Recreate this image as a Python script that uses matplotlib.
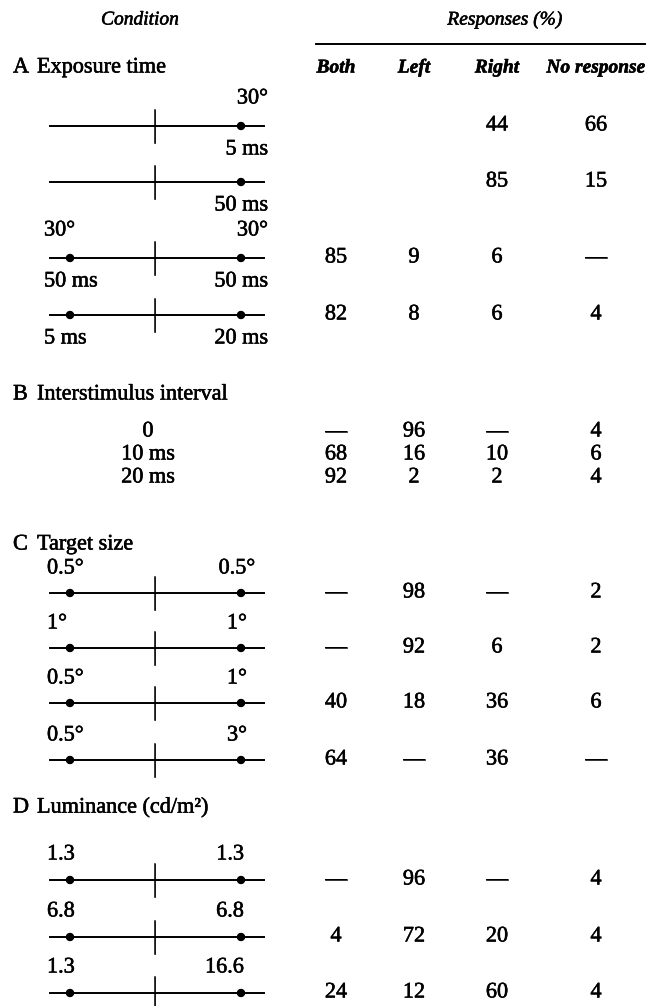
import matplotlib
matplotlib.use("Agg")
from matplotlib import pyplot as plt
import matplotlib.patheffects as pe

## Data
columns = ["Both", "Left", "Right", "No response"]

# A Exposure time (target labels above / below the line, left and right)
a_top_left = ["", "", "30°", ""]
a_top_right = ["30°", "", "30°", ""]
a_bottom_left = ["", "", "50 ms", "5 ms"]
a_bottom_right = ["5 ms", "50 ms", "50 ms", "20 ms"]
a_left_target = [False, False, True, True]
a_both = ["", "", "85", "82"]
a_left = ["", "", "9", "8"]
a_right = ["44", "85", "6", "6"]
a_none = ["66", "15", "—", "4"]

# B Interstimulus interval
b_labels = ["0", "10 ms", "20 ms"]
b_both = ["—", "68", "92"]
b_left = ["96", "16", "2"]
b_right = ["—", "10", "2"]
b_none = ["4", "6", "4"]

# C Target size
c_top_left = ["0.5°", "1°", "0.5°", "0.5°"]
c_top_right = ["0.5°", "1°", "1°", "3°"]
c_both = ["—", "—", "40", "64"]
c_left = ["98", "92", "18", "—"]
c_right = ["—", "6", "36", "36"]
c_none = ["2", "2", "6", "—"]

# D Luminance
d_top_left = ["1.3", "6.8", "1.3"]
d_top_right = ["1.3", "6.8", "16.6"]
d_both = ["—", "4", "24"]
d_left = ["96", "72", "12"]
d_right = ["—", "20", "60"]
d_none = ["4", "4", "4"]

## Layout (pixels, y down)
a_y = [126, 182, 258, 315]
b_y = [432, 455, 478]
c_y = [593, 648, 703, 760]
d_y = [880, 937, 993]
col_x = [336, 414, 497, 596]
line_x0, line_x1, tick_x = 50, 264, 155
dot_l, dot_r = 70, 241
lab_l = 44

plt.rcParams["font.family"] = ["Liberation Serif", "DejaVu Serif"]
# scanned print looks a bit heavier
plt.rcParams["path.effects"] = [pe.withStroke(linewidth=0.4, foreground="black")]
fs = 16
fig = plt.figure(figsize=(6.52, 10.06), dpi=100)
ax = fig.add_axes([0, 0, 1, 1])
ax.set_xlim(0, 652)
ax.set_ylim(1006, 0)
ax.axis("off")


def stimulus(y, left_dot=True):
    ax.plot([line_x0, line_x1], [y, y], color="black", lw=1.4)
    ax.plot([tick_x, tick_x], [y - 16, y + 17], color="black", lw=1.1)
    xs = [dot_l, dot_r] if left_dot else [dot_r]
    ax.plot(xs, [y] * len(xs), "o", color="black", ms=5)


def values(y, row):
    for x, v in zip(col_x, row):
        ax.text(x, y, v, ha="center", va="center", fontsize=fs)


def header(y, letter, title):
    ax.text(13, y, letter, ha="left", va="center", fontsize=fs)
    ax.text(37, y, title, ha="left", va="center", fontsize=fs)


# headers
ax.text(140, 20, "Condition", ha="center", va="center", fontsize=14, style="italic")
ax.text(505, 20, "Responses (%)", ha="center", va="center", fontsize=14, style="italic")
ax.plot([316, 645], [44, 44], color="black", lw=1.4)
for x, c in zip(col_x, columns):
    ax.text(x, 68, c, ha="center", va="center", fontsize=14, style="italic",
            weight="bold")

# A
header(68, "A", "Exposure time")
for i, y in enumerate(a_y):
    stimulus(y, a_left_target[i])
    ax.text(lab_l, y - 27, a_top_left[i], ha="left", va="center", fontsize=fs)
    ax.text(268, y - 27, a_top_right[i], ha="right", va="center", fontsize=fs)
    ax.text(lab_l, y + 24, a_bottom_left[i], ha="left", va="center", fontsize=fs)
    ax.text(268, y + 24, a_bottom_right[i], ha="right", va="center", fontsize=fs)
    values(y, [a_both[i], a_left[i], a_right[i], a_none[i]])

# B
header(395, "B", "Interstimulus interval")
for i, y in enumerate(b_y):
    ax.text(148, y, b_labels[i], ha="center", va="center", fontsize=fs)
    values(y, [b_both[i], b_left[i], b_right[i], b_none[i]])

# C
header(545, "C", "Target size")
for i, y in enumerate(c_y):
    stimulus(y)
    ax.text(lab_l + 3, y - 24, c_top_left[i], ha="left", va="center", fontsize=fs)
    ax.text(237, y - 24, c_top_right[i], ha="center", va="center", fontsize=fs)
    values(y, [c_both[i], c_left[i], c_right[i], c_none[i]])

# D
header(808, "D", "Luminance (cd/m²)")
for i, y in enumerate(d_y):
    stimulus(y)
    ax.text(lab_l + 3, y - 25, d_top_left[i], ha="left", va="center", fontsize=fs)
    ax.text(244, y - 25, d_top_right[i], ha="right", va="center", fontsize=fs)
    values(y, [d_both[i], d_left[i], d_right[i], d_none[i]])

fig.savefig("out.png", dpi=100)
